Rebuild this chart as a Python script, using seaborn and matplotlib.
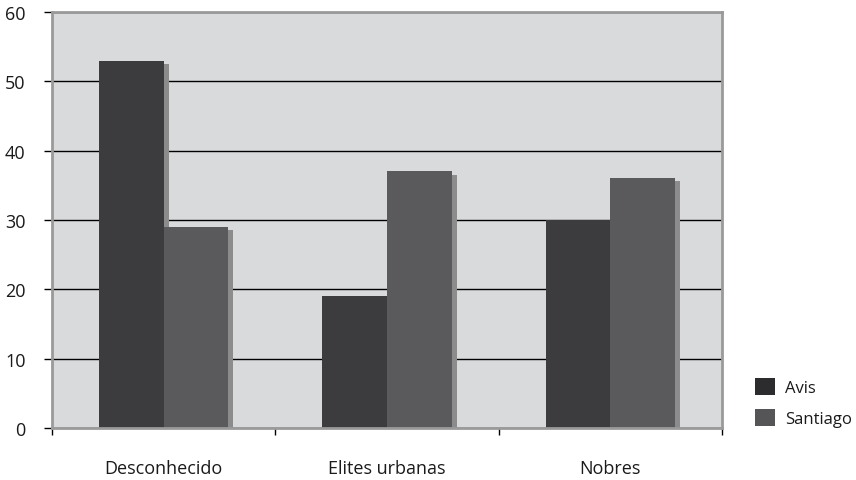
import matplotlib
matplotlib.use("Agg")
from matplotlib import pyplot as plt
from matplotlib.patches import Patch
import matplotlib.patheffects as pe
import pandas as pd
import seaborn as sns

categories = ["Desconhecido", "Elites urbanas", "Nobres"]
avis = [53, 19, 30]
santiago = [29, 37, 36]
series = ["Avis", "Santiago"]

df = pd.DataFrame({
    "categoria": categories * 2,
    "ordem": [series[0]] * 3 + [series[1]] * 3,
    "valor": avis + santiago,
})

sns.set_style("white")
plt.rcParams["font.family"] = ["Open Sans", "DejaVu Sans"]
plt.rcParams["font.size"] = 13
plt.rcParams["text.color"] = "#1a1a1a"
plt.rcParams["xtick.color"] = "#1a1a1a"
plt.rcParams["ytick.color"] = "#1a1a1a"

fig = plt.figure(figsize=(8.56, 4.81), dpi=100)
ax = fig.add_axes([52 / 856, 52 / 481, 670 / 856, 416 / 481])
ax.set_facecolor("#d9dadc")

palette = {"Avis": "#3c3c3e", "Santiago": "#5a5a5c"}
sns.barplot(data=df, x="categoria", y="valor", hue="ordem", palette=palette,
            width=0.58, saturation=1, ax=ax, legend=False)

shadow = [pe.SimplePatchShadow(offset=(3.6, -2.2), shadow_rgbFace="#8c8c8c", alpha=1),
          pe.Normal()]
for p in ax.patches:
    p.set_edgecolor("none")
    p.set_path_effects(shadow)

ax.set_ylim(0, 60)
ax.set_xlim(-0.5, 2.5)
ax.set_yticks(range(0, 61, 10))
ax.yaxis.grid(True, color="black", lw=1)
ax.set_axisbelow(True)
ax.set_xlabel("")
ax.set_ylabel("")

for side in ["left", "top", "right", "bottom"]:
    ax.spines[side].set_visible(True)
    ax.spines[side].set_color("#9a9a9a")
    ax.spines[side].set_linewidth(2)

ax.tick_params(axis="y", left=True, length=6, width=1, color="black", pad=13, labelsize=13)
ax.set_xticks([-0.5, 0.5, 1.5, 2.5], minor=True)
ax.tick_params(axis="x", which="major", bottom=False, pad=19, labelsize=13)
ax.tick_params(axis="x", which="minor", bottom=True, length=5, width=1, color="black")

handles = [Patch(facecolor="#2c2c2e", edgecolor="none"),
           Patch(facecolor="#555557", edgecolor="none")]
ax.legend(handles, series, loc="lower left", bbox_to_anchor=(747 / 856, 45 / 481),
          bbox_transform=fig.transFigure, frameon=False, handlelength=1.2,
          handleheight=1.2, labelspacing=0.75, handletextpad=0.6, fontsize=12,
          borderpad=0)

fig.savefig("out.png", dpi=100)
